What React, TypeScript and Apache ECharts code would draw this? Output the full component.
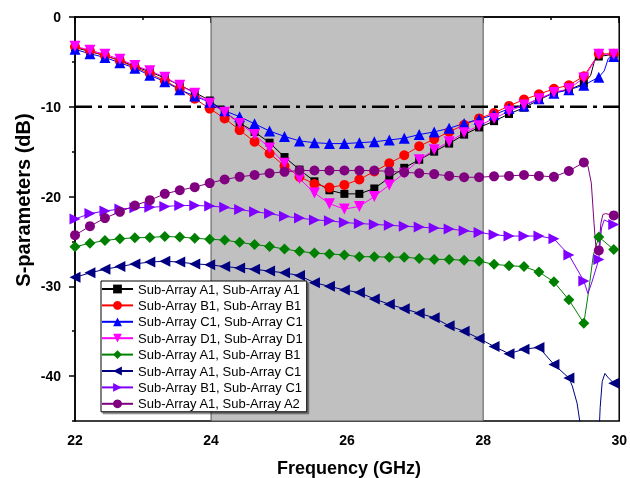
import React, { useEffect, useRef } from "react";
import * as echarts from "echarts";

const FONT = '"Liberation Sans", Arial, sans-serif';

// Frequencies of the marked points (GHz)
const freq = [22.00, 22.22, 22.44, 22.66, 22.88, 23.10, 23.32, 23.54, 23.76, 23.98, 24.20, 24.42, 24.64, 24.86, 25.08, 25.30, 25.52, 25.74, 25.96, 26.18, 26.40, 26.62, 26.84, 27.06, 27.28, 27.50, 27.72, 27.94, 28.16, 28.38, 28.60, 28.82, 29.04, 29.26, 29.48, 29.70, 29.92];

const seriesNames = [
  "Sub-Array A1, Sub-Array A1",
  "Sub-Array B1, Sub-Array B1",
  "Sub-Array C1, Sub-Array C1",
  "Sub-Array D1, Sub-Array D1",
  "Sub-Array A1, Sub-Array B1",
  "Sub-Array A1, Sub-Array C1",
  "Sub-Array B1, Sub-Array C1",
  "Sub-Array A1, Sub-Array A2",
];

const a1a1 = [-3.4, -3.85, -4.3, -4.85, -5.5, -6.1, -6.8, -7.6, -8.4, -9.3, -10.6, -11.8, -12.8, -14.0, -15.6, -17.0, -18.3, -19.3, -19.7, -19.7, -19.1, -17.9, -16.8, -15.9, -15.0, -14.1, -13.1, -12.3, -11.6, -10.8, -10.1, -9.25, -8.4, -8.1, -7.4, -4.4, -4.15];
const b1b1 = [-3.3, -3.8, -4.3, -4.9, -5.6, -6.3, -7.1, -8.0, -9.1, -10.2, -11.3, -12.6, -13.9, -15.2, -16.6, -17.8, -18.6, -19.0, -18.7, -18.1, -17.2, -16.3, -15.4, -14.4, -13.6, -12.8, -12.0, -11.3, -10.7, -9.9, -9.2, -8.6, -8.0, -7.6, -6.6, -4.1, -4.1];
const c1c1 = [-3.6, -4.1, -4.5, -5.1, -5.7, -6.5, -7.2, -8.1, -8.8, -9.5, -10.45, -11.1, -11.9, -12.7, -13.3, -13.8, -14.0, -14.1, -14.1, -14.0, -13.9, -13.7, -13.5, -13.1, -12.8, -12.4, -11.85, -11.4, -10.9, -10.2, -9.9, -9.1, -8.5, -8.1, -7.6, -6.7, -4.4];
const d1d1 = [-3.25, -3.7, -4.15, -4.7, -5.4, -6.0, -6.7, -7.6, -8.5, -9.6, -10.6, -11.85, -13.1, -14.6, -16.3, -18.0, -19.6, -20.8, -21.4, -21.1, -20.0, -18.7, -17.4, -15.9, -14.8, -13.9, -12.9, -12.1, -11.3, -10.5, -9.8, -9.1, -8.4, -8.0, -6.8, -4.15, -4.15];
const a1b1 = [-25.6, -25.2, -24.9, -24.7, -24.6, -24.55, -24.45, -24.5, -24.65, -24.75, -24.85, -25.1, -25.35, -25.55, -25.85, -26.1, -26.3, -26.4, -26.5, -26.7, -26.7, -26.75, -26.75, -26.9, -27.0, -27.0, -27.1, -27.2, -27.55, -27.7, -27.8, -28.4, -29.5, -31.5, -34.1, -24.5, -25.9];
const a1c1 = [-29.0, -28.5, -28.1, -27.8, -27.5, -27.3, -27.2, -27.3, -27.5, -27.6, -27.8, -27.95, -28.1, -28.3, -28.5, -28.8, -29.6, -30.0, -30.4, -30.7, -31.4, -32.0, -32.5, -33.0, -33.5, -34.4, -35.0, -35.8, -36.7, -37.5, -37.0, -36.8, -38.7, -40.2, -50.0, -47.0, -40.8];
const b1c1 = [-22.5, -21.9, -21.6, -21.4, -21.25, -21.2, -21.1, -21.0, -21.0, -21.05, -21.2, -21.45, -21.7, -21.9, -22.2, -22.4, -22.6, -22.7, -22.9, -23.0, -23.1, -23.2, -23.3, -23.4, -23.5, -23.6, -23.8, -24.0, -24.25, -24.4, -24.4, -24.4, -24.7, -26.5, -29.4, -27.0, -23.1];
const a1a2 = [-24.3, -23.3, -22.4, -21.7, -21.0, -20.4, -19.7, -19.3, -18.95, -18.5, -18.1, -17.8, -17.6, -17.4, -17.25, -17.1, -17.1, -17.1, -17.1, -17.1, -17.1, -17.2, -17.3, -17.4, -17.5, -17.7, -17.85, -17.85, -17.75, -17.7, -17.6, -17.7, -17.8, -17.15, -16.2, -26.0, -22.1];

// Unmarked intermediate points of the resonance near 29.5 GHz
const a1a1ExtraF = [29.58, 29.64];
const a1a1ExtraV = [-6.5, -4.8];
const c1c1ExtraF = [29.78, 29.84];
const c1c1ExtraV = [-6.0, -4.6];
const a1b1ExtraF = [29.54, 29.62];
const a1b1ExtraV = [-31.1, -26.5];
const a1c1ExtraF = [29.31, 29.38, 29.43, 29.60, 29.72, 29.75, 29.79, 29.83];
const a1c1ExtraV = [-41.1, -43.0, -45.5, -55.0, -43.5, -40.6, -39.7, -40.1];
const b1c1ExtraF = [29.54, 29.60, 29.74, 29.78];
const b1c1ExtraV = [-30.8, -29.5, -23.5, -22.6];
const a1a2ExtraF = [29.54, 29.59, 29.63, 29.66, 29.73, 29.76, 29.80];
const a1a2ExtraV = [-16.6, -18.5, -23.0, -25.9, -23.0, -22.0, -21.9];

// Axis ticks
const yMajorTicks = [0, -10, -20, -30, -40];
const yMinorTicks = [-5, -15, -25, -35, -45];

const bandStart = 24;
const bandEnd = 28;
const thresholdDb = -10;

const colors = ["#000000", "#FF0000", "#0000FF", "#FF00FF", "#008000", "#000080", "#8000FF", "#800080"];
const symbols = ["rect", "circle", "triangle", "triangle", "diamond", "triangle", "triangle", "circle"];
const rotations = [0, 0, 0, 180, 0, 90, -90, 0];
const sizes = [8, 10, 11, 11, 11, 11, 11, 10];

function build(vals: number[], ef: number[] = [], ev: number[] = []) {
  const pts: any[] = freq.map((f, i) => ({ value: [f, vals[i]] }));
  ef.forEach((f, i) => pts.push({ value: [f, ev[i]], symbol: "none" }));
  pts.sort((a, b) => a.value[0] - b.value[0]);
  return pts;
}

export default function App() {
  const ref = useRef<HTMLDivElement>(null);
  useEffect(() => {
    if (!ref.current) return;
    const chart = echarts.init(ref.current, undefined, { renderer: "svg" });
    const datasets = [
      build(a1a1, a1a1ExtraF, a1a1ExtraV),
      build(b1b1),
      build(c1c1, c1c1ExtraF, c1c1ExtraV),
      build(d1d1),
      build(a1b1, a1b1ExtraF, a1b1ExtraV),
      build(a1c1, a1c1ExtraF, a1c1ExtraV),
      build(b1c1, b1c1ExtraF, b1c1ExtraV),
      build(a1a2, a1a2ExtraF, a1a2ExtraV),
    ];
    const dataSeries = seriesNames.map((name, k) => ({
      name,
      type: "line",
      data: datasets[k],
      symbol: symbols[k],
      symbolRotate: rotations[k],
      symbolSize: sizes[k],
      showAllSymbol: true,
      clip: true,
      z: 3,
      lineStyle: { color: colors[k], width: 1 },
      itemStyle: { color: colors[k] },
      emphasis: { disabled: true },
    }));
    const yBase = {
      type: "value", min: -45, max: 0, interval: 5,
      splitLine: { show: false },
    };
    chart.setOption({
      animation: false,
      grid: { left: 75, right: 6, top: 17, bottom: 57, show: true, borderColor: "#000", borderWidth: 1.5, backgroundColor: "transparent" },
      xAxis: {
        type: "value", min: 22, max: 30, interval: 2,
        axisLine: { lineStyle: { color: "#000", width: 1.5 } },
        axisTick: { show: true, inside: false, length: 6, lineStyle: { color: "#000", width: 1.5 } },
        minorTick: { show: true, splitNumber: 2, length: 3, lineStyle: { color: "#000", width: 1.5 } },
        splitLine: { show: false },
        axisLabel: { color: "#000", fontWeight: "bold", fontSize: 14, fontFamily: FONT, margin: 12 },
      },
      yAxis: [
        {
          ...yBase,
          axisLine: { show: true, lineStyle: { color: "#000", width: 1.5 } },
          axisTick: { show: true, inside: false, length: 6, customValues: yMajorTicks, lineStyle: { color: "#000", width: 1.5 } },
          axisLabel: { color: "#000", fontWeight: "bold", fontSize: 14, fontFamily: FONT, margin: 14, customValues: yMajorTicks },
        },
        {
          ...yBase,
          position: "left",
          axisLine: { show: false },
          axisTick: { show: true, inside: false, length: 3, customValues: yMinorTicks, lineStyle: { color: "#000", width: 1.5 } },
          axisLabel: { show: false },
        },
      ],
      legend: {
        data: seriesNames,
        orient: "vertical",
        left: 101, top: 281,
        itemWidth: 31, itemHeight: 11, itemGap: 2.4,
        padding: [1, 4, 1, 0],
        backgroundColor: "#fff", borderColor: "#000", borderWidth: 1,
        shadowColor: "rgba(0,0,0,0.45)", shadowOffsetX: 2, shadowOffsetY: 2, shadowBlur: 0,
        textStyle: { fontSize: 13, fontFamily: FONT, color: "#000", lineHeight: 14 },
        selectedMode: false,
      },
      graphic: [
        { type: "text", x: 23, y: 200, rotation: Math.PI / 2, style: { text: "S-parameters (dB)", align: "center", verticalAlign: "middle", font: `bold 20px ${FONT}`, fill: "#000" } },
        { type: "text", x: 349, y: 468, style: { text: "Frequency (GHz)", align: "center", verticalAlign: "middle", font: `bold 18px ${FONT}`, fill: "#000" } },
      ],
      series: [
        {
          name: "band", type: "line", data: [], z: 1, silent: true,
          markArea: {
            silent: true,
            itemStyle: { color: "#C0C0C0", borderColor: "#555", borderWidth: 1 },
            data: [[{ xAxis: bandStart }, { xAxis: bandEnd }]],
          },
        },
        {
          name: "threshold", type: "line", z: 2, silent: true, symbol: "none",
          data: [[22, thresholdDb], [30, thresholdDb]],
          lineStyle: { color: "#000", width: 2.5, type: [17, 6, 4, 6] },
        },
        ...dataSeries,
      ],
    });
    return () => chart.dispose();
  }, []);
  return <div ref={ref} style={{ position: "fixed", left: 0, top: 0, width: 630, height: 478 }} />;
}
